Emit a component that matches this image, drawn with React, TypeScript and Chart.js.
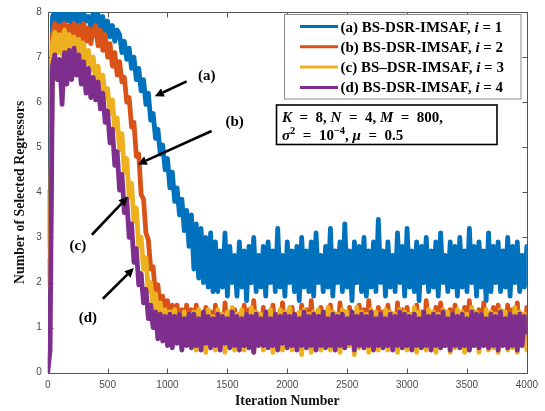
import React, { useEffect, useRef } from 'react';
import { Chart, registerables } from 'chart.js';

Chart.register(...registerables);

// ---------- data ----------
const STEP = 20;
const ITERATIONS: number[] = Array.from({ length: 201 }, (_, i) => i * STEP);
const X_TICKS = [0, 500, 1000, 1500, 2000, 2500, 3000, 3500, 4000];
const Y_TICKS = [0, 1, 2, 3, 4, 5, 6, 7, 8];

const SERIES_LABELS = [
  '(a) BS-DSR-IMSAF, i = 1',
  '(b) BS-DSR-IMSAF, i = 2',
  '(c) BS\u2013DSR-IMSAF, i = 3',
  '(d) BS-DSR-IMSAF, i = 4',
];

const SERIES_A = [
  4.0, 2.6, 7.9, 8.0, 7.7, 7.95, 7.6, 8.0, 7.8, 7.95,
  7.7, 8.0, 7.75, 7.95, 7.6, 8.0, 7.8, 7.9, 7.65, 8.0,
  7.7, 7.95, 7.6, 7.9, 7.5, 7.8, 7.45, 7.7, 7.35, 7.6,
  7.5, 7.1, 7.35, 6.95, 7.2, 6.75, 7.0, 6.5, 6.75, 6.25,
  6.5, 5.95, 6.2, 5.6, 5.75, 5.2, 5.4, 4.85, 5.05, 4.5,
  4.75, 4.1, 4.45, 3.8, 4.1, 3.5, 3.85, 3.15, 3.6, 2.8,
  3.5, 2.3, 3.3, 2.1, 3.2, 2.0, 3.0, 1.9, 3.1, 1.8,
  2.9, 1.8, 2.7, 1.9, 3.1, 1.7, 2.8, 2.0, 2.6, 1.7,
  2.9, 1.9, 2.7, 1.6, 2.8, 2.0, 3.0, 1.8, 2.6, 1.9,
  2.8, 1.7, 2.9, 2.0, 2.7, 1.8, 3.2, 1.9, 2.6, 1.7,
  2.9, 2.0, 2.7, 1.8, 2.8, 1.6, 3.0, 1.9, 2.7, 1.8,
  2.9, 1.7, 3.1, 2.0, 2.6, 1.8, 2.8, 1.9, 3.2, 1.7,
  2.7, 2.0, 2.9, 1.8, 3.3, 1.9, 2.7, 1.6, 2.9, 2.0,
  2.8, 1.8, 3.0, 1.7, 2.7, 1.9, 2.9, 1.8, 3.4, 2.0,
  2.7, 1.7, 2.9, 1.9, 2.6, 1.8, 3.1, 2.0, 2.8, 1.7,
  3.2, 1.9, 2.7, 1.8, 2.9, 1.6, 2.8, 2.0, 3.0, 1.8,
  2.7, 1.9, 2.9, 1.7, 3.1, 2.0, 2.6, 1.8, 2.9, 1.9,
  2.8, 1.7, 3.0, 1.9, 2.7, 1.8, 3.2, 2.0, 2.8, 1.7,
  2.9, 1.9, 2.7, 1.6, 3.1, 1.8, 2.8, 2.0, 2.9, 1.8,
  2.7, 1.9, 3.0, 1.7, 2.8, 2.0, 2.9, 1.8, 2.6, 1.9,
  2.8,
];

const SERIES_B = [
  2.5, 2.0, 7.5, 7.75, 7.35, 7.7, 7.3, 7.75, 7.4, 7.7,
  7.35, 7.75, 7.3, 7.7, 7.4, 7.75, 7.35, 7.65, 7.3, 7.6,
  7.7, 7.25, 7.6, 7.15, 7.5, 7.0, 7.3, 6.8, 7.1, 6.6,
  6.9, 6.45, 6.55, 6.0, 6.1, 5.45, 5.55, 4.8, 4.85, 3.95,
  3.85, 3.1, 2.95, 2.3, 2.35, 1.7, 1.95, 1.35, 1.7, 1.2,
  1.6, 1.0, 1.5, 0.9, 1.5, 0.8, 1.4, 0.9, 1.5, 0.8,
  1.4, 0.7, 1.5, 0.8, 1.3, 0.6, 1.45, 0.8, 1.35, 0.7,
  1.5, 0.8, 1.3, 0.7, 1.55, 0.9, 1.35, 0.6, 1.4, 0.8,
  1.3, 0.7, 1.5, 0.8, 1.4, 0.6, 1.6, 0.9, 1.3, 0.7,
  1.45, 0.8, 1.35, 0.6, 1.5, 0.9, 1.3, 0.7, 1.55, 0.8,
  1.35, 0.7, 1.45, 0.8, 1.3, 0.6, 1.5, 0.8, 1.4, 0.7,
  1.6, 0.8, 1.3, 0.7, 1.45, 0.9, 1.35, 0.6, 1.5, 0.8,
  1.3, 0.7, 1.55, 0.8, 1.35, 0.6, 1.45, 0.9, 1.3, 0.7,
  1.5, 0.8, 1.4, 0.6, 1.6, 0.8, 1.3, 0.7, 1.45, 0.9,
  1.35, 0.7, 1.5, 0.8, 1.3, 0.6, 1.55, 0.8, 1.4, 0.7,
  1.45, 0.9, 1.3, 0.7, 1.5, 0.8, 1.35, 0.6, 1.6, 0.8,
  1.3, 0.7, 1.45, 0.8, 1.55, 0.6, 1.35, 0.9, 1.4, 0.7,
  1.5, 0.8, 1.3, 0.7, 1.45, 0.8, 1.6, 0.6, 1.35, 0.8,
  1.4, 0.7, 1.55, 0.8, 1.3, 0.6, 1.45, 0.9, 1.5, 0.7,
  1.35, 0.8, 1.5, 0.7, 1.4, 0.6, 1.55, 0.8, 1.3, 0.7,
  1.45,
];

const SERIES_C = [
  2.0, 1.9, 7.3, 7.55, 7.1, 7.5, 7.05, 7.6, 7.15, 7.5,
  7.1, 7.45, 7.0, 7.4, 6.95, 7.3, 6.85, 7.15, 6.7, 7.0,
  6.5, 6.8, 6.3, 6.6, 6.1, 6.3, 5.75, 6.05, 5.4, 5.65,
  4.95, 5.3, 4.45, 4.75, 3.9, 4.2, 3.35, 3.65, 2.8, 3.0,
  2.3, 2.55, 1.8, 2.0, 1.45, 1.75, 1.2, 1.55, 1.0, 1.4,
  0.8, 1.35, 0.6, 1.4, 0.7, 1.3, 0.55, 1.35, 0.7, 1.25,
  0.6, 1.35, 0.5, 1.4, 0.65, 1.3, 0.45, 1.4, 0.6, 1.25,
  0.5, 1.4, 0.65, 1.3, 0.45, 1.35, 0.6, 1.45, 0.5, 1.3,
  0.65, 1.4, 0.5, 1.3, 0.6, 1.45, 0.45, 1.35, 0.6, 1.3,
  0.5, 1.35, 0.65, 1.4, 0.45, 1.3, 0.6, 1.4, 0.5, 1.35,
  0.6, 1.45, 0.5, 1.3, 0.65, 1.35, 0.4, 1.4, 0.55, 1.3,
  0.45, 1.35, 0.6, 1.4, 0.5, 1.3, 0.65, 1.45, 0.5, 1.35,
  0.6, 1.3, 0.45, 1.4, 0.55, 1.35, 0.6, 1.3, 0.4, 1.45,
  0.55, 1.35, 0.6, 1.3, 0.45, 1.4, 0.6, 1.35, 0.5, 1.3,
  0.6, 1.4, 0.5, 1.35, 0.65, 1.3, 0.45, 1.4, 0.55, 1.35,
  0.5, 1.3, 0.6, 1.45, 0.45, 1.35, 0.6, 1.3, 0.5, 1.4,
  0.6, 1.35, 0.45, 1.3, 0.55, 1.4, 0.6, 1.35, 0.45, 1.3,
  0.55, 1.4, 0.6, 1.35, 0.45, 1.3, 0.5, 1.45, 0.6, 1.35,
  0.45, 1.3, 0.6, 1.4, 0.5, 1.35, 0.55, 1.3, 0.45, 1.4,
  0.6, 1.35, 0.5, 1.3, 0.55, 1.45, 0.45, 1.35, 0.6, 1.3,
  0.5,
];

const SERIES_D = [
  0.0, 0.5, 6.8, 7.05, 6.5, 6.95, 5.95, 7.1, 6.4, 7.15,
  6.5, 7.2, 6.6, 7.05, 6.4, 6.9, 6.2, 6.75, 6.1, 6.55,
  6.05, 6.45, 5.85, 6.2, 5.55, 5.8, 5.1, 5.4, 4.6, 4.9,
  4.05, 4.4, 3.55, 3.85, 3.0, 3.3, 2.45, 2.75, 1.95, 2.2,
  1.55, 1.85, 1.2, 1.5, 1.0, 1.35, 0.75, 1.3, 0.7, 1.25,
  0.6, 1.3, 0.55, 1.25, 0.65, 1.3, 0.5, 1.2, 0.6, 1.3,
  0.55, 1.3, 0.6, 1.2, 0.5, 1.35, 0.65, 1.25, 0.55, 1.2,
  0.6, 1.3, 0.5, 1.25, 0.65, 1.2, 0.55, 1.35, 0.6, 1.25,
  0.5, 1.2, 0.6, 1.3, 0.55, 1.25, 0.45, 1.3, 0.6, 1.2,
  0.6, 1.35, 0.55, 1.2, 0.6, 1.3, 0.5, 1.25, 0.65, 1.3,
  0.55, 1.25, 0.6, 1.3, 0.5, 1.2, 0.6, 1.35, 0.55, 1.25,
  0.6, 1.3, 0.5, 1.25, 0.6, 1.35, 0.55, 1.2, 0.6, 1.3,
  0.5, 1.25, 0.6, 1.3, 0.55, 1.2, 0.65, 1.35, 0.5, 1.25,
  0.6, 1.3, 0.55, 1.25, 0.6, 1.35, 0.5, 1.2, 0.6, 1.3,
  0.55, 1.2, 0.6, 1.3, 0.5, 1.25, 0.6, 1.35, 0.55, 1.3,
  0.6, 1.25, 0.5, 1.3, 0.6, 1.2, 0.55, 1.35, 0.6, 1.25,
  0.5, 1.3, 0.6, 1.25, 0.55, 1.35, 0.6, 1.2, 0.5, 1.3,
  0.6, 1.25, 0.55, 1.3, 0.6, 1.2, 0.5, 1.35, 0.6, 1.3,
  0.55, 1.3, 0.6, 1.2, 0.55, 1.3, 0.6, 1.25, 0.5, 1.35,
  0.6, 1.2, 0.55, 1.3, 0.6, 1.25, 0.5, 1.3, 0.6, 1.25,
  0.9,
];

// arrow annotations in data units (iteration, regressors)
const ANNOTATIONS = [
  { text: '(a)', at: [1327, 6.57], from: [1160, 6.46], to: [894, 6.13] },
  { text: '(b)', at: [1560, 5.56], from: [1368, 5.36], to: [752, 4.62] },
  { text: '(c)', at: [252, 2.8], from: [369, 3.06], to: [669, 3.9] },
  { text: '(d)', at: [336, 1.22], from: [461, 1.64], to: [719, 2.32] },
];

// ---------- styles ----------
const COLORS = ['#0072BD', '#D95319', '#EDB120', '#7E2F8E'];
const SERIF = '"Liberation Serif", "Times New Roman", serif';
const SANS = '"Liberation Sans", Arial, sans-serif';
const AXIS_COLOR = '#555555';
const TICK_COLOR = '#4a4a4a';

type Seg = { t: string; it?: boolean; sup?: boolean };

function drawRich(ctx: CanvasRenderingContext2D, segs: Seg[], x: number, y: number, size: number) {
  let cx = x;
  ctx.textAlign = 'left';
  ctx.textBaseline = 'alphabetic';
  for (const s of segs) {
    const fs = s.sup ? size * 0.7 : size;
    ctx.font = `${s.it ? 'italic ' : ''}bold ${fs}px ${SERIF}`;
    ctx.fillText(s.t, cx, s.sup ? y - size * 0.4 : y);
    cx += ctx.measureText(s.t).width;
  }
}

function drawArrow(ctx: CanvasRenderingContext2D, x0: number, y0: number, x1: number, y1: number) {
  const ang = Math.atan2(y1 - y0, x1 - x0);
  const head = 9;
  const hw = 4.5;
  const bx = x1 - head * Math.cos(ang);
  const by = y1 - head * Math.sin(ang);
  ctx.strokeStyle = '#000';
  ctx.fillStyle = '#000';
  ctx.lineWidth = 2.6;
  ctx.lineCap = 'butt';
  ctx.beginPath();
  ctx.moveTo(x0, y0);
  ctx.lineTo(bx, by);
  ctx.stroke();
  ctx.beginPath();
  ctx.moveTo(x1, y1);
  ctx.lineTo(bx + hw * Math.sin(ang), by - hw * Math.cos(ang));
  ctx.lineTo(bx - hw * Math.sin(ang), by + hw * Math.cos(ang));
  ctx.closePath();
  ctx.fill();
}

const framePlugin = {
  id: 'matlabFrame',
  beforeDatasetsDraw(chart: any) {
    const { ctx, chartArea: a, scales } = chart;
    const xs = scales.x;
    const ys = scales.y;
    ctx.save();
    ctx.strokeStyle = AXIS_COLOR;
    ctx.lineWidth = 1;
    const L = Math.round(a.left) + 0.5;
    const R = Math.round(a.right) + 0.5;
    const T = Math.round(a.top) + 0.5;
    const B = Math.round(a.bottom) + 0.5;
    ctx.strokeRect(L, T, R - L, B - T);
    const tl = 5;
    ctx.beginPath();
    for (const v of X_TICKS) {
      const px = Math.round(xs.getPixelForValue(v)) + 0.5;
      ctx.moveTo(px, B); ctx.lineTo(px, B - tl);
      ctx.moveTo(px, T); ctx.lineTo(px, T + tl);
    }
    for (const v of Y_TICKS) {
      const py = Math.round(ys.getPixelForValue(v)) + 0.5;
      ctx.moveTo(L, py); ctx.lineTo(L + tl, py);
      ctx.moveTo(R, py); ctx.lineTo(R - tl, py);
    }
    ctx.stroke();
    ctx.restore();
  },
  afterDatasetsDraw(chart: any) {
    const { ctx, scales } = chart;
    const xs = scales.x;
    const ys = scales.y;
    ctx.save();
    // arrows + labels
    for (const an of ANNOTATIONS) {
      drawArrow(
        ctx,
        xs.getPixelForValue(an.from[0]), ys.getPixelForValue(an.from[1]),
        xs.getPixelForValue(an.to[0]), ys.getPixelForValue(an.to[1])
      );
      ctx.fillStyle = '#000';
      ctx.font = `bold 15px ${SERIF}`;
      ctx.textAlign = 'center';
      ctx.textBaseline = 'middle';
      ctx.fillText(an.text, xs.getPixelForValue(an.at[0]), ys.getPixelForValue(an.at[1]));
    }

    // legend
    const lg = { x: 284.5, y: 14.5, w: 236.5, h: 84.5 };
    ctx.fillStyle = '#fff';
    ctx.fillRect(lg.x, lg.y, lg.w, lg.h);
    ctx.strokeStyle = '#8a8a8a';
    ctx.lineWidth = 1;
    ctx.strokeRect(lg.x, lg.y, lg.w, lg.h);
    chart.data.datasets.forEach((ds: any, i: number) => {
      const cy = 26.5 + i * 20.3;
      ctx.strokeStyle = ds.borderColor;
      ctx.lineWidth = 3;
      ctx.beginPath();
      ctx.moveTo(300, cy);
      ctx.lineTo(338, cy);
      ctx.stroke();
      ctx.fillStyle = '#000';
      const label: string = ds.label;
      const k = label.lastIndexOf(', i');
      const segs: Seg[] = [
        { t: label.slice(0, k + 2) },
        { t: 'i', it: true },
        { t: label.slice(k + 3) },
      ];
      drawRich(ctx, segs, 340.5, cy + 5, 15);
    });

    // parameter box
    const bx = { x: 276.5, y: 105, w: 220.5, h: 39.5 };
    ctx.fillStyle = '#fff';
    ctx.fillRect(bx.x, bx.y, bx.w, bx.h);
    ctx.strokeStyle = '#000';
    ctx.lineWidth = 1.6;
    ctx.strokeRect(bx.x, bx.y, bx.w, bx.h);
    ctx.fillStyle = '#000';
    const sp = '\u2002';
    drawRich(ctx, [
      { t: 'K', it: true }, { t: `${sp}=${sp}8, ` },
      { t: 'N', it: true }, { t: `${sp}=${sp}4, ` },
      { t: 'M', it: true }, { t: `${sp}=${sp}800,` },
    ], 282, 122, 15);
    drawRich(ctx, [
      { t: '\u03c3', it: true }, { t: '2', sup: true }, { t: `${sp}=${sp}10` },
      { t: '\u22124', sup: true }, { t: ', ' },
      { t: '\u03bc', it: true }, { t: `${sp}=${sp}0.5` },
    ], 282, 140, 15);
    ctx.restore();
  },
};

export default function App() {
  const canvasRef = useRef<HTMLCanvasElement | null>(null);

  useEffect(() => {
    const canvas = canvasRef.current;
    if (!canvas) return;
    const seriesList = [SERIES_A, SERIES_B, SERIES_C, SERIES_D];
    const chart = new Chart(canvas, {
      type: 'line',
      data: {
        datasets: seriesList.map((s, k) => ({
          label: SERIES_LABELS[k],
          data: ITERATIONS.map((x, i) => ({ x, y: s[i] })),
          borderColor: COLORS[k],
          backgroundColor: COLORS[k],
          borderWidth: 4.8,
          borderJoinStyle: 'round',
          borderCapStyle: 'round',
          pointRadius: 0,
          tension: 0,
          fill: false,
          order: 4 - k,
        })),
      },
      options: {
        animation: false,
        responsive: false,
        devicePixelRatio: 1,
        layout: { padding: { top: 7.5, right: 17, left: 0, bottom: 0 } },
        plugins: {
          legend: { display: false },
          tooltip: { enabled: false },
        },
        scales: {
          x: {
            type: 'linear',
            min: 0,
            max: 4000,
            afterFit: (scale: any) => { scale.height = 38.3; },
            afterBuildTicks: (scale: any) => { scale.ticks = X_TICKS.map((v) => ({ value: v })); },
            ticks: {
              callback: (v: any) => String(v),
              color: TICK_COLOR,
              font: { family: SANS, size: 10 },
              padding: 7,
              maxRotation: 0,
              autoSkip: false,
            },
            grid: { display: false, drawTicks: false },
            border: { display: false },
            title: {
              display: true,
              text: 'Iteration Number',
              color: '#111',
              font: { family: SERIF, size: 13.8, weight: 'bold', lineHeight: 1.2 },
              padding: { top: 0, bottom: 1 },
            },
          },
          y: {
            type: 'linear',
            min: 0,
            max: 8,
            afterFit: (scale: any) => { scale.width = 47.7; },
            afterBuildTicks: (scale: any) => { scale.ticks = Y_TICKS.map((v) => ({ value: v })); },
            ticks: {
              callback: (v: any) => String(v),
              color: TICK_COLOR,
              font: { family: SANS, size: 10 },
              padding: 6,
              autoSkip: false,
            },
            grid: { display: false, drawTicks: false },
            border: { display: false },
            title: {
              display: true,
              text: 'Number of Selected Regressors',
              color: '#111',
              font: { family: SERIF, size: 13.8, weight: 'bold', lineHeight: 1.2 },
              padding: { top: 12.5, bottom: 0 },
            },
          },
        },
      },
      plugins: [framePlugin],
    } as any);
    return () => chart.destroy();
  }, []);

  return (
    <div style={{ position: 'absolute', left: 0, top: 0, width: 545, height: 411, background: '#fff' }}>
      <canvas ref={canvasRef} width={545} height={411} style={{ display: 'block', width: 545, height: 411 }} />
    </div>
  );
}
